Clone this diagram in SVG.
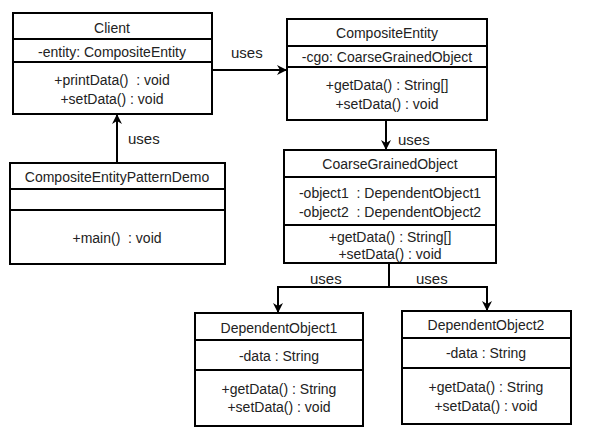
<svg xmlns="http://www.w3.org/2000/svg" width="615" height="448" viewBox="0 0 615 448">
<defs>
<marker id="arr" viewBox="0 0 10 10" refX="9" refY="5" markerWidth="5" markerHeight="5" orient="auto" markerUnits="strokeWidth">
<path d="M0,0 L10,5 L0,10 L3,5 Z" fill="#000"/>
</marker>
<style>
.box{fill:#fff;stroke:#000;stroke-width:2}
.div{stroke:#000;stroke-width:2}
text{font-family:"Liberation Sans",Arial,sans-serif;font-size:14px;fill:#222;text-anchor:middle;dominant-baseline:central;white-space:pre}
.con{fill:none;stroke:#000;stroke-width:2}
.lbl{font-size:15px;text-anchor:start}
</style>
</defs>
<rect width="615" height="448" fill="#fff"/>
<g id="connectors">
<line class="con" x1="212" y1="70" x2="286" y2="70" marker-end="url(#arr)"/>
<line class="con" x1="117" y1="163" x2="117" y2="115" marker-end="url(#arr)"/>
<line class="con" x1="386" y1="120" x2="386" y2="149" marker-end="url(#arr)"/>
<polyline class="con" points="389,263 389,287 278,287 278,312" marker-end="url(#arr)"/>
<polyline class="con" points="389,287 487,287 487,310" marker-end="url(#arr)"/>
<text class="lbl" x="231" y="52">uses</text>
<text class="lbl" x="128" y="138">uses</text>
<text class="lbl" x="398" y="139">uses</text>
<text class="lbl" x="310" y="278">uses</text>
<text class="lbl" x="416" y="278">uses</text>
</g>
<g id="client">
<rect class="box" x="13" y="13" width="199" height="101"/>
<line class="div" x1="13" y1="39" x2="212" y2="39"/>
<line class="div" x1="13" y1="62" x2="212" y2="62"/>
<text x="112" y="28">Client</text>
<text x="112" y="52">-entity: CompositeEntity</text>
<text x="112" y="80" xml:space="preserve">+printData()  : void</text>
<text x="112" y="99">+setData() : void</text>
</g>
<g id="compositeEntity">
<rect class="box" x="287" y="19" width="200" height="101"/>
<line class="div" x1="287" y1="46" x2="487" y2="46"/>
<line class="div" x1="287" y1="67" x2="487" y2="67"/>
<text x="387" y="33">CompositeEntity</text>
<text x="387" y="57">-cgo: CoarseGrainedObject</text>
<text x="387" y="85">+getData() : String[]</text>
<text x="387" y="104">+setData() : void</text>
</g>
<g id="demo">
<rect class="box" x="10" y="163" width="215" height="101"/>
<line class="div" x1="10" y1="189" x2="225" y2="189"/>
<line class="div" x1="10" y1="210" x2="225" y2="210"/>
<text x="117" y="177">CompositeEntityPatternDemo</text>
<text x="117" y="238" xml:space="preserve">+main()  : void</text>
</g>
<g id="coarseGrainedObject">
<rect class="box" x="284" y="150" width="212" height="113"/>
<line class="div" x1="284" y1="177" x2="496" y2="177"/>
<line class="div" x1="284" y1="225" x2="496" y2="225"/>
<text x="390" y="164">CoarseGrainedObject</text>
<text x="390" y="193" xml:space="preserve">-object1  : DependentObject1</text>
<text x="390" y="212" xml:space="preserve">-object2  : DependentObject2</text>
<text x="390" y="237">+getData() : String[]</text>
<text x="390" y="254">+setData() : void</text>
</g>
<g id="dependentObject1">
<rect class="box" x="195" y="313" width="168" height="113"/>
<line class="div" x1="195" y1="340" x2="363" y2="340"/>
<line class="div" x1="195" y1="370" x2="363" y2="370"/>
<text x="279" y="328">DependentObject1</text>
<text x="279" y="356">-data : String</text>
<text x="279" y="389">+getData() : String</text>
<text x="279" y="407">+setData() : void</text>
</g>
<g id="dependentObject2">
<rect class="box" x="402" y="311" width="169" height="113"/>
<line class="div" x1="402" y1="338" x2="571" y2="338"/>
<line class="div" x1="402" y1="368" x2="571" y2="368"/>
<text x="486" y="325">DependentObject2</text>
<text x="486" y="353">-data : String</text>
<text x="486" y="387">+getData() : String</text>
<text x="486" y="406">+setData() : void</text>
</g>
</svg>
